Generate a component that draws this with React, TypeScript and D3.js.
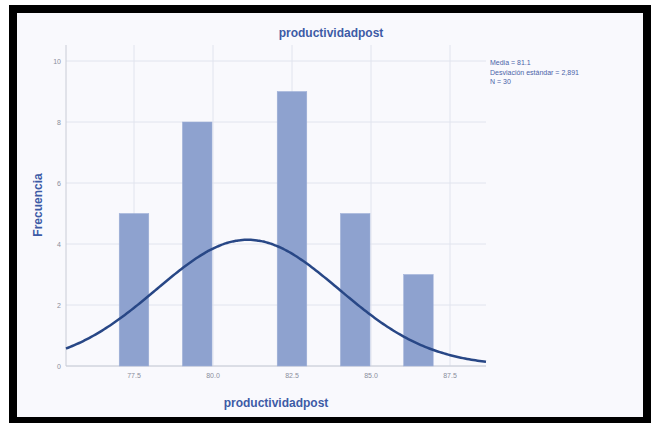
import React from "react";
import * as d3 from "d3";

// Histogram bins (lower edge, width 1) and frequencies
const binStarts = [77, 79, 82, 84, 86];
const binCounts = [5, 8, 9, 5, 3];
const binWidth = 1;

// Axis ticks
const xTicks = [77.5, 80.0, 82.5, 85.0, 87.5];
const yTicks = [0, 2, 4, 6, 8, 10];

// Summary statistics
const mean = 81.1;
const sd = 2.891;
const n = 30;
const statsLines = ["Media = 81.1", "Desviación estándar = 2,891", "N = 30"];

const W = 653;
const H = 423;
const plot = { left: 66, right: 486, top: 45, bottom: 366 };

export default function App() {
  const x = d3
    .scaleLinear()
    .domain([77.5, 87.5])
    .range([134, 450]);
  const y = d3
    .scaleLinear()
    .domain([0, 10])
    .range([366, 61]);

  const xMin = x.invert(plot.left);
  const xMax = x.invert(plot.right);
  const normal = (v: number) =>
    ((n * binWidth) / (sd * Math.sqrt(2 * Math.PI))) *
    Math.exp(-0.5 * ((v - mean) / sd) ** 2);
  const curvePts = d3.range(0, 201).map((i) => {
    const v = xMin + ((xMax - xMin) * i) / 200;
    return [v, normal(v)] as [number, number];
  });
  const line = d3
    .line<[number, number]>()
    .x((d) => x(d[0]))
    .y((d) => y(d[1]))
    .curve(d3.curveBasis);

  const blue = "#3d5ba6";
  const grid = "#e1e4ee";

  return (
    <svg
      width={W}
      height={H}
      style={{ position: "absolute", left: 0, top: 0 }}
      fontFamily="Arial, 'Liberation Sans', sans-serif"
    >
      <rect x={0} y={0} width={W} height={H} fill="#ffffff" />
      {/* frame */}
      <rect x={9} y={5} width={642} height={420} fill="#000" />
      <rect x={17} y={13} width={626} height={404} fill="#f9f9fd" />

      {/* gridlines */}
      {yTicks.map((t) => (
        <line
          key={"gy" + t}
          x1={plot.left}
          x2={plot.right}
          y1={y(t)}
          y2={y(t)}
          stroke={grid}
          strokeWidth={1}
        />
      ))}
      {xTicks.map((t) => (
        <line
          key={"gx" + t}
          x1={x(t)}
          x2={x(t)}
          y1={plot.top}
          y2={plot.bottom}
          stroke={grid}
          strokeWidth={1}
        />
      ))}

      {/* axes */}
      <line x1={plot.left} x2={plot.left} y1={plot.top} y2={plot.bottom} stroke="#c9ccd6" />
      <line x1={plot.left} x2={plot.right} y1={plot.bottom} y2={plot.bottom} stroke="#c9ccd6" />

      {/* bars */}
      {binStarts.map((s, i) => (
        <rect
          key={"b" + s}
          x={x(s) + 1}
          y={y(binCounts[i])}
          width={x(s + binWidth) - x(s) - 2}
          height={y(0) - y(binCounts[i])}
          fill="#8ea2cf"
          stroke="#9eb0d8"
          strokeWidth={0.5}
        />
      ))}

      {/* normal curve */}
      <path d={line(curvePts) || ""} fill="none" stroke="#284786" strokeWidth={2.5} />

      {/* tick labels */}
      {yTicks.map((t) => (
        <text
          key={"ty" + t}
          x={61}
          y={y(t) + 2.5}
          fontSize={7}
          fill="#8a8e9c"
          textAnchor="end"
        >
          {t}
        </text>
      ))}
      {xTicks.map((t) => (
        <text
          key={"tx" + t}
          x={x(t)}
          y={378}
          fontSize={7}
          fill="#8a8e9c"
          textAnchor="middle"
        >
          {t.toFixed(1)}
        </text>
      ))}

      {/* titles */}
      <text x={331} y={37} fontSize={12} fontWeight="bold" fill={blue} textAnchor="middle">
        productividadpost
      </text>
      <text x={276} y={407} fontSize={12} fontWeight="bold" fill={blue} textAnchor="middle">
        productividadpost
      </text>
      <text
        transform="translate(42,205) rotate(-90)"
        fontSize={12}
        fontWeight="bold"
        fill={blue}
        textAnchor="middle"
      >
        Frecuencia
      </text>

      {/* statistics */}
      {statsLines.map((s, i) => (
        <text key={"s" + i} x={490} y={65 + i * 9.5} fontSize={7} fill="#4a63a8">
          {s}
        </text>
      ))}
    </svg>
  );
}
